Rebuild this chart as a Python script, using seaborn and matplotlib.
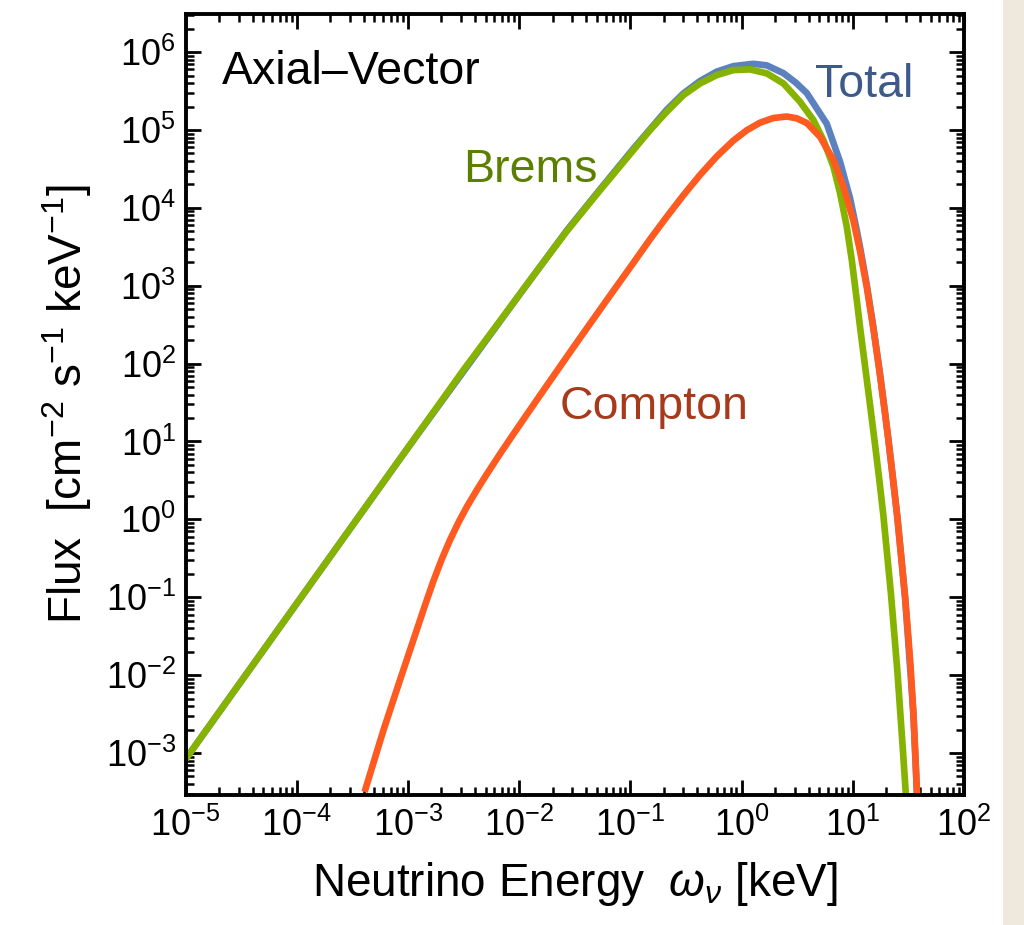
import numpy as np
import pandas as pd
import matplotlib
matplotlib.use("Agg")
import matplotlib.pyplot as plt
import matplotlib.ticker as mticker
from matplotlib.patches import Rectangle
import seaborn as sns

# ---- data (log10 of energy [keV] and flux) ----
brems_logE = [-5.0, -4.0, -3.0, -2.5, -2.172, -1.872, -1.572, -1.272, -1.122, -0.973,
              -0.823, -0.673, -0.523, -0.373, -0.223, -0.074, 0.076, 0.227, 0.376, 0.526,
              0.646, 0.736, 0.826, 0.886, 0.946, 0.991, 1.036, 1.066, 1.111, 1.156,
              1.201, 1.240, 1.275, 1.344, 1.401, 1.450, 1.478]
brems_logF = [-3.08, -1.08, 0.92, 1.92, 2.55, 3.13, 3.70, 4.228, 4.485, 4.742,
              4.999, 5.234, 5.448, 5.598, 5.705, 5.769, 5.778, 5.727, 5.598, 5.362,
              5.127, 4.870, 4.528, 4.186, 3.757, 3.330, 2.816, 2.46, 1.96, 1.46,
              0.95, 0.49, 0.05, -0.97, -1.95, -2.95, -3.55]

compton_logE = [-3.39, -3.221, -3.071, -2.921, -2.846, -2.772, -2.697, -2.622, -2.546, -2.471,
                -2.381, -2.291, -2.171, -2.052, -1.812, -1.541, -1.376, -1.212, -0.973, -0.823,
                -0.673, -0.523, -0.373, -0.223, -0.074, 0.046, 0.166, 0.286, 0.407, 0.496,
                0.586, 0.706, 0.826, 0.916, 1.005, 1.066, 1.126, 1.185, 1.240, 1.290,
                1.320, 1.360, 1.401, 1.440, 1.470, 1.500, 1.520, 1.545, 1.565, 1.578]
compton_logF = [-3.50, -2.71, -2.06, -1.42, -1.10, -0.795, -0.515, -0.265, -0.04, 0.16,
                0.376, 0.581, 0.843, 1.095, 1.594, 2.150, 2.485, 2.816, 3.294, 3.597,
                3.885, 4.163, 4.424, 4.661, 4.864, 4.996, 5.094, 5.154, 5.173, 5.15,
                5.09, 4.913, 4.614, 4.271, 3.84, 3.44, 2.98, 2.45, 1.90, 1.36,
                1.02, 0.54, 0.02, -0.55, -1.0, -1.52, -1.90, -2.50, -3.10, -3.55]

total_logE = [-5.0, -4.0, -3.0, -2.0, -1.572, -1.272, -0.973, -0.673, -0.523, -0.373,
              -0.223, -0.074, 0.106, 0.226, 0.376, 0.486, 0.586, 0.766, 0.886, 0.976,
              1.036, 1.066, 1.126, 1.185, 1.240, 1.290, 1.320, 1.401, 1.470, 1.545,
              1.578]
total_logF = [-3.08, -1.08, 0.92, 2.88, 3.71, 4.24, 4.76, 5.26, 5.47, 5.63,
              5.75, 5.82, 5.85, 5.83, 5.73, 5.61, 5.475, 5.08, 4.59, 4.12,
              3.71, 3.49, 3.01, 2.47, 1.92, 1.37, 1.03, 0.03, -0.99, -2.49,
              -3.55]

series_names = ["Total", "Brems", "Compton"]
series_colors = ["#5b82be", "#86b300", "#ff5a1f"]
label_colors = ["#3d5a8a", "#5c7f00", "#a83a1c"]

x_ticks_exp = [-5, -4, -3, -2, -1, 0, 1, 2]
y_ticks_exp = [-3, -2, -1, 0, 1, 2, 3, 4, 5, 6]

frames = []
for name, le, lf in [("Total", total_logE, total_logF),
                     ("Brems", brems_logE, brems_logF),
                     ("Compton", compton_logE, compton_logF)]:
    frames.append(pd.DataFrame({"E": 10.0 ** np.array(le),
                                "F": 10.0 ** np.array(lf),
                                "series": name}))
df = pd.concat(frames, ignore_index=True)

# ---- style ----
sns.set_theme(style="white")
plt.rcParams["font.family"] = ["Liberation Sans", "DejaVu Sans"]
plt.rcParams["mathtext.fontset"] = "custom"
plt.rcParams["mathtext.rm"] = "Liberation Sans"
plt.rcParams["mathtext.it"] = "Liberation Sans:italic"
plt.rcParams["mathtext.default"] = "regular"
for k in ["text.color", "axes.labelcolor", "xtick.color", "ytick.color"]:
    plt.rcParams[k] = "black"

fig = plt.figure(figsize=(10.24, 9.25), dpi=100)
fig.patch.set_facecolor("white")
fig.patches.append(Rectangle((1003 / 1024, 0), 21 / 1024, 1, transform=fig.transFigure,
                             facecolor="#efe8dc", edgecolor="none", zorder=0))
ax = fig.add_axes([0.1812, 0.1405, 0.7602, 0.8444])

sns.lineplot(data=df, x="E", y="F", hue="series", hue_order=series_names,
             palette=dict(zip(series_names, series_colors)), estimator=None,
             sort=False, linewidth=4.8, legend=False, ax=ax)
for ln in ax.get_lines():
    ln.set_solid_capstyle("butt")
    ln.set_solid_joinstyle("round")

ax.set_xscale("log")
ax.set_yscale("log")
ax.set_xlim(1e-5, 1e2)
ax.set_ylim(10 ** -3.54, 10 ** 6.49)

ax.xaxis.set_major_locator(mticker.FixedLocator([10.0 ** e for e in x_ticks_exp]))
ax.yaxis.set_major_locator(mticker.FixedLocator([10.0 ** e for e in y_ticks_exp]))
ax.set_xticklabels([r"$10^{%d}$" % e for e in x_ticks_exp])
ax.set_yticklabels([r"$10^{%d}$" % e for e in y_ticks_exp])
ax.xaxis.set_minor_locator(mticker.LogLocator(base=10, subs=np.arange(2, 10), numticks=100))
ax.yaxis.set_minor_locator(mticker.LogLocator(base=10, subs=np.arange(2, 10), numticks=100))
ax.xaxis.set_minor_formatter(mticker.NullFormatter())
ax.yaxis.set_minor_formatter(mticker.NullFormatter())

for sp in ax.spines.values():
    sp.set_linewidth(2.8)
    sp.set_color("black")
ax.tick_params(which="both", direction="in", top=True, right=True, bottom=True, left=True,
               color="black")
ax.tick_params(which="major", length=11, width=2.0, labelsize=26, pad=9)
ax.tick_params(which="minor", length=6, width=1.8)
ax.tick_params(axis="y", which="major", pad=7)

ax.set_xlabel(r"Neutrino Energy  $\mathit{\omega_\nu}$ [keV]", fontsize=33, labelpad=12)
ax.set_ylabel(r"Flux  [cm$^{-2}$ s$^{-1}$ keV$^{-1}$]", fontsize=33, labelpad=8)

ax.text(10 ** -4.67, 10 ** 5.74, "Axial\u2013Vector", fontsize=33.5, color="black",
        ha="left", va="center")
ax.text(10 ** 0.66, 10 ** 5.58, "Total", fontsize=33.5, color=label_colors[0],
        ha="left", va="center")
ax.text(10 ** -2.504, 10 ** 4.485, "Brems", fontsize=33.5, color=label_colors[1],
        ha="left", va="center")
ax.text(10 ** -1.632, 10 ** 1.443, "Compton", fontsize=33.5, color=label_colors[2],
        ha="left", va="center")

fig.savefig("out.png", dpi=100, facecolor=fig.get_facecolor())
